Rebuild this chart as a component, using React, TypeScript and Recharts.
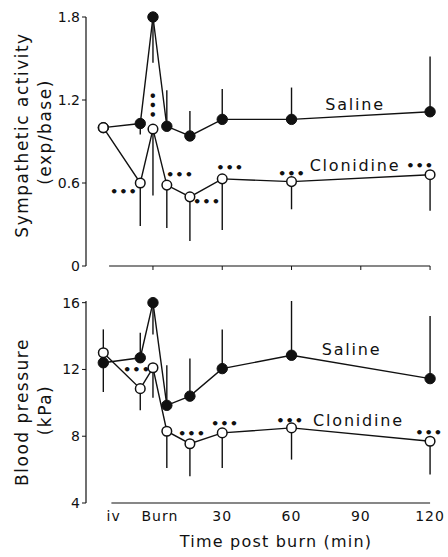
import React from "react";
import {
  LineChart, Line, XAxis, YAxis, ErrorBar, ReferenceLine, ReferenceDot,
} from "recharts";

// time (min) relative to burn; first two points are iv and pre-burn
const times = [-21.5, -5.5, 0, 6, 16, 30, 60, 120];

// sympathetic activity (exp/base)
const symSaline = [1.0, 1.03, 1.8, 1.01, 0.94, 1.06, 1.06, 1.115];
const symSalineErr = [[0, 0], [0.08, 0], [0.33, 0], [0, 0.26], [0, 0.18], [0, 0.22], [0, 0.23], [0, 0.4]];
const symClon = [1.0, 0.6, 0.99, 0.585, 0.5, 0.63, 0.61, 0.66];
const symClonErr = [[0, 0], [0.31, 0], [0.48, 0], [0.31, 0], [0.32, 0], [0.37, 0], [0.2, 0], [0.26, 0]];

// blood pressure (kPa)
const bpSaline = [12.4, 12.7, 16.0, 9.85, 10.4, 12.05, 12.85, 11.45];
const bpSalineErr = [[1.75, 0], [0, 1.5], [1.9, 0], [0, 2.4], [0, 2.25], [0, 2.35], [0, 3.25], [0, 3.75]];
const bpClon = [13.0, 10.85, 12.1, 8.3, 7.55, 8.2, 8.5, 7.7];
const bpClonErr = [[0, 1.4], [1.3, 0], [1.8, 0], [2.2, 0], [1.95, 0], [2.1, 0], [1.9, 0], [2.0, 0]];

const symTicks = [0, 0.6, 1.2, 1.8];
const bpTicks = [4, 8, 12, 16];
const topXTicks = [0, 30, 60, 90, 120];
const bottomXTicks = [-17, 3, 30, 60, 90, 120];
const bottomXLabels = ["iv", "Burn", "30", "60", "90", "120"];

// significance markers (x min, y value)
const symStars = [
  { x: -12.6, y: 0.535, v: false },
  { x: 0, y: 1.16, v: true },
  { x: 11.7, y: 0.658, v: false },
  { x: 23.4, y: 0.463, v: false },
  { x: 33.4, y: 0.709, v: false },
  { x: 60.2, y: 0.672, v: false },
  { x: 115.7, y: 0.73, v: false },
];
const bpStars = [
  { x: -6.9, y: 12.02, v: false },
  { x: 16.9, y: 8.16, v: false },
  { x: 31.2, y: 8.75, v: false },
  { x: 59.4, y: 8.93, v: false },
  { x: 119.6, y: 8.22, v: false },
];
const symNames = [
  { x: 87.5, y: 1.17, name: "Saline" },
  { x: 87.5, y: 0.73, name: "Clonidine" },
];
const bpNames = [
  { x: 86, y: 13.2, name: "Saline" },
  { x: 89, y: 8.93, name: "Clonidine" },
];

const INK = "#111";
const FONT = "'DejaVu Sans', sans-serif";
const X_DOMAIN: [number, number] = [-29, 123];

const symData = times.map((t, i) => ({
  t, sal: symSaline[i], salErr: symSalineErr[i], clon: symClon[i], clonErr: symClonErr[i],
}));
const bpData = times.map((t, i) => ({
  t, sal: bpSaline[i], salErr: bpSalineErr[i], clon: bpClon[i], clonErr: bpClonErr[i],
}));

const starShape = (vertical: boolean) => (p: any) => (
  <text
    x={p.cx}
    y={p.cy}
    textAnchor="middle"
    dominantBaseline="central"
    fontFamily={FONT}
    fontSize={13}
    fontWeight="bold"
    letterSpacing={1}
    fill={INK}
    transform={vertical ? `rotate(90 ${p.cx} ${p.cy})` : undefined}
  >
    •••
  </text>
);

const nameShape = (name: string) => (p: any) => (
  <text
    x={p.cx}
    y={p.cy}
    textAnchor="middle"
    dominantBaseline="central"
    fontFamily={FONT}
    fontSize={16}
    letterSpacing={1.8}
    fill={INK}
  >
    {name}
  </text>
);

const tickStyle = { fontSize: 14, fill: INK, fontFamily: FONT };

function Panel({ data, domain, ticks, stars, names, bottom, height, top }: any) {
  return (
    <LineChart
      width={448}
      height={height}
      data={data}
      margin={{ top, right: 11, bottom: 0, left: 0 }}
    >
      <XAxis
        type="number"
        dataKey="t"
        domain={X_DOMAIN}
        ticks={bottom ? bottomXTicks : topXTicks}
        tickFormatter={(v: number) => (bottom ? bottomXLabels[bottomXTicks.indexOf(v)] : "")}
        axisLine={false}
        tickLine={bottom ? false : { stroke: INK }}
        tickSize={4}
        tickMargin={bottom ? 4 : 0}
        height={bottom ? 54 : 14}
        tick={{ ...tickStyle, letterSpacing: 1 }}
      />
      <YAxis
        type="number"
        domain={domain}
        ticks={ticks}
        interval={0}
        width={86}
        axisLine={{ stroke: INK, strokeWidth: 1.2 }}
        tickLine={{ stroke: INK }}
        tickSize={4}
        tickMargin={2}
        tick={tickStyle}
      />
      <ReferenceLine
        segment={[{ x: bottom ? -18 : -19, y: domain[0] }, { x: 120, y: domain[0] }]}
        stroke={INK}
        strokeWidth={1.2}
      />
      <Line
        type="linear"
        dataKey="sal"
        stroke={INK}
        strokeWidth={1.4}
        dot={{ r: 5.2, fill: INK, stroke: INK, strokeWidth: 1 }}
        isAnimationActive={false}
      >
        <ErrorBar dataKey="salErr" width={0} stroke={INK} strokeWidth={1.4} direction="y" />
      </Line>
      <Line
        type="linear"
        dataKey="clon"
        stroke={INK}
        strokeWidth={1.4}
        dot={{ r: 4.8, fill: "#fff", stroke: INK, strokeWidth: 1.5 }}
        isAnimationActive={false}
      >
        <ErrorBar dataKey="clonErr" width={0} stroke={INK} strokeWidth={1.4} direction="y" />
      </Line>
      {stars.map((s: any, i: number) => (
        <ReferenceDot key={"s" + i} x={s.x} y={s.y} r={0} shape={starShape(s.v)} />
      ))}
      {names.map((n: any, i: number) => (
        <ReferenceDot key={"n" + i} x={n.x} y={n.y} r={0} shape={nameShape(n.name)} />
      ))}
    </LineChart>
  );
}

const titleStyle: React.CSSProperties = {
  position: "absolute",
  fontFamily: FONT,
  fontSize: 17,
  letterSpacing: 1.5,
  color: INK,
  whiteSpace: "nowrap",
  transform: "translate(-50%, -50%) rotate(-90deg)",
};

export default function App() {
  return (
    <div style={{ position: "absolute", left: 0, top: 0, width: 448, height: 557, background: "#fff" }}>
      <div style={{ position: "absolute", left: 0, top: 0 }}>
        <Panel
          data={symData}
          domain={[0, 1.8]}
          ticks={symTicks}
          stars={symStars}
          names={symNames}
          bottom={false}
          height={280}
          top={17}
        />
      </div>
      <div style={{ position: "absolute", left: 0, top: 280 }}>
        <Panel
          data={bpData}
          domain={[4, 16]}
          ticks={bpTicks}
          stars={bpStars}
          names={bpNames}
          bottom={true}
          height={277}
          top={21}
        />
      </div>
      <div style={{ ...titleStyle, left: 22, top: 135 }}>Sympathetic activity</div>
      <div style={{ ...titleStyle, left: 45, top: 132 }}>(exp/base)</div>
      <div style={{ ...titleStyle, left: 22, top: 412 }}>Blood pressure</div>
      <div style={{ ...titleStyle, left: 45, top: 410 }}>(kPa)</div>
      <div
        style={{
          position: "absolute",
          left: 276,
          top: 541,
          transform: "translate(-50%, -50%)",
          fontFamily: FONT,
          fontSize: 16,
          letterSpacing: 1.2,
          color: INK,
          whiteSpace: "nowrap",
        }}
      >
        Time post burn (min)
      </div>
    </div>
  );
}
